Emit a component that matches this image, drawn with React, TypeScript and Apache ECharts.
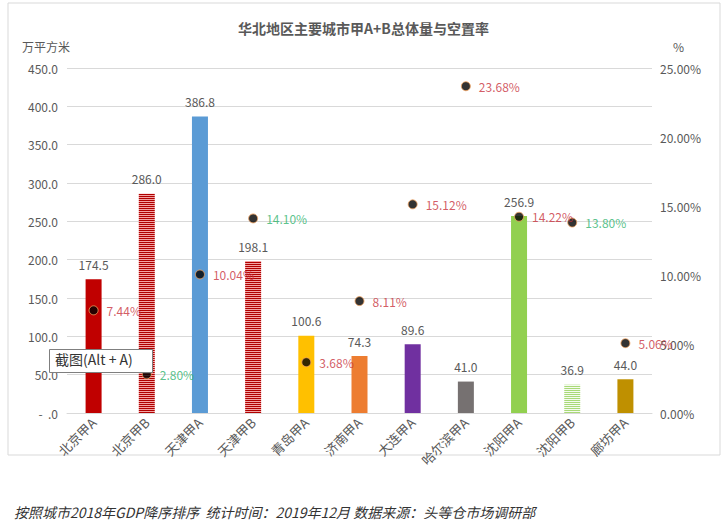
import React, { useEffect, useRef } from "react";
import * as echarts from "echarts";

const categories = ["北京甲A", "北京甲B", "天津甲A", "天津甲B", "青岛甲A", "济南甲A", "大连甲A", "哈尔滨甲A", "沈阳甲A", "沈阳甲B", "廊坊甲A"];
const areaValues = [174.5, 286.0, 386.8, 198.1, 100.6, 74.3, 89.6, 41.0, 256.9, 36.9, 44.0];
const vacancyValues = [7.44, 2.8, 10.04, 14.1, 3.68, 8.11, 15.12, 23.68, 14.22, 13.8, 5.06];
const barColors = ["#C00000", "stripeRed", "#5B9BD5", "stripeRed", "#FFC000", "#ED7D31", "#7030A0", "#767171", "#92D050", "stripeGreen", "#BF9000"];
const labelColors = ["red", "green", "red", "green", "red", "red", "red", "red", "red", "green", "red"];
const leftTicks = [0, 50, 100, 150, 200, 250, 300, 350, 400, 450];
const rightTicks = [0, 5, 10, 15, 20, 25];

function makeStripe(dark: string, light: string, darkRows: number, lightRows: number) {
  const c = document.createElement("canvas");
  c.width = 4;
  c.height = darkRows + lightRows;
  const ctx = c.getContext("2d")!;
  ctx.fillStyle = light;
  ctx.fillRect(0, 0, 4, c.height);
  ctx.fillStyle = dark;
  ctx.fillRect(0, 0, 4, darkRows);
  return c;
}

export default function App() {
  const ref = useRef<HTMLDivElement>(null);
  useEffect(() => {
    if (!ref.current) return;
    const chart = echarts.init(ref.current, undefined, { renderer: "svg" });
    const redStripe = makeStripe("#B00000", "#F3A3A3", 1, 1);
    const greenStripe = makeStripe("#A9D977", "#F4FBEE", 1, 1);
    const resolveColor = (c: string): any => {
      if (c === "stripeRed") return { image: redStripe, repeat: "repeat" };
      if (c === "stripeGreen") return { image: greenStripe, repeat: "repeat" };
      return c;
    };
    const font = "'Noto Sans CJK SC', 'Noto Sans', sans-serif";
    const red = "#C8323C";
    const green = "#2FB36E";
    chart.setOption({
      animation: false,
      backgroundColor: "#ffffff",
      textStyle: { fontFamily: font },
      title: {
        text: "华北地区主要城市甲A+B总体量与空置率",
        left: "center",
        top: 16,
        textStyle: { fontSize: 14, fontWeight: "bold", color: "#595959", fontFamily: font },
      },
      grid: { left: 67, right: 75, top: 68, bottom: 115 },
      xAxis: {
        type: "category",
        data: categories,
        axisLine: { show: true, lineStyle: { color: "#D9D9D9" } },
        axisTick: { show: false },
        axisLabel: { rotate: 45, color: "#595959", fontSize: 13, interval: 0, margin: 7 },
      },
      yAxis: [
        {
          type: "value",
          min: leftTicks[0],
          max: leftTicks[leftTicks.length - 1],
          interval: 50,
          axisLine: { show: false },
          axisTick: { show: false },
          splitLine: { lineStyle: { color: "#D9D9D9" } },
          axisLabel: {
            color: "#595959",
            fontSize: 12,
            margin: 9,
            formatter: (v: number) => (v === 0 ? "-  .0" : v.toFixed(1)),
          },
        },
        {
          type: "value",
          min: rightTicks[0],
          max: rightTicks[rightTicks.length - 1],
          interval: 5,
          axisLine: { show: false },
          axisTick: { show: false },
          splitLine: { show: false },
          axisLabel: {
            color: "#595959",
            fontSize: 12,
            margin: 8,
            formatter: (v: number) => v.toFixed(2) + "%",
          },
        },
      ],
      series: [
        {
          type: "bar",
          yAxisIndex: 0,
          barWidth: 16,
          data: areaValues.map((v, i) => ({ value: v, itemStyle: { color: resolveColor(barColors[i]) } })),
          label: {
            show: true,
            position: "top",
            distance: 9,
            color: "#595959",
            fontSize: 12,
            formatter: (p: any) => Number(p.value).toFixed(1),
          },
        },
        {
          type: "scatter",
          yAxisIndex: 1,
          symbolSize: 9,
          itemStyle: { color: "#000000", borderColor: "#F4A460", borderWidth: 1 },
          data: vacancyValues.map((v, i) => ({
            value: v,
            label: { color: labelColors[i] === "red" ? red : green },
          })),
          label: {
            show: true,
            position: "right",
            distance: 8,
            fontSize: 12,
            formatter: (p: any) => Number(p.value).toFixed(2) + "%",
          },
          z: 5,
        },
      ],
      graphic: [
        {
          type: "rect",
          shape: { x: 8, y: 3, width: 712, height: 452 },
          style: { fill: "none", stroke: "#D9D9D9", lineWidth: 1 },
          z: -1,
        },
        {
          type: "text",
          left: 22,
          top: 40,
          style: { text: "万平方米", fill: "#595959", fontSize: 12, fontFamily: font },
        },
        {
          type: "text",
          left: 673,
          top: 40,
          style: { text: "%", fill: "#595959", fontSize: 12, fontFamily: font },
        },
        {
          type: "rect",
          shape: { x: 49.5, y: 349.5, width: 103, height: 23 },
          style: { fill: "#ffffff", stroke: "#7F7F7F", lineWidth: 1 },
          z: 100,
        },
        {
          type: "text",
          left: 55,
          top: 352,
          z: 101,
          style: { text: "截图(Alt + A)", fill: "#333333", fontSize: 14, fontFamily: font },
        },
        {
          type: "text",
          left: 14,
          top: 505,
          style: {
            text: "按照城市2018年GDP降序排序  统计时间：2019年12月 数据来源：头等仓市场调研部",
            fill: "#333333",
            fontSize: 14,
            fontStyle: "italic",
            fontFamily: font,
          },
        },
      ],
    });
    return () => chart.dispose();
  }, []);
  return <div ref={ref} style={{ position: "fixed", left: 0, top: 0, width: 727, height: 528 }} />;
}
